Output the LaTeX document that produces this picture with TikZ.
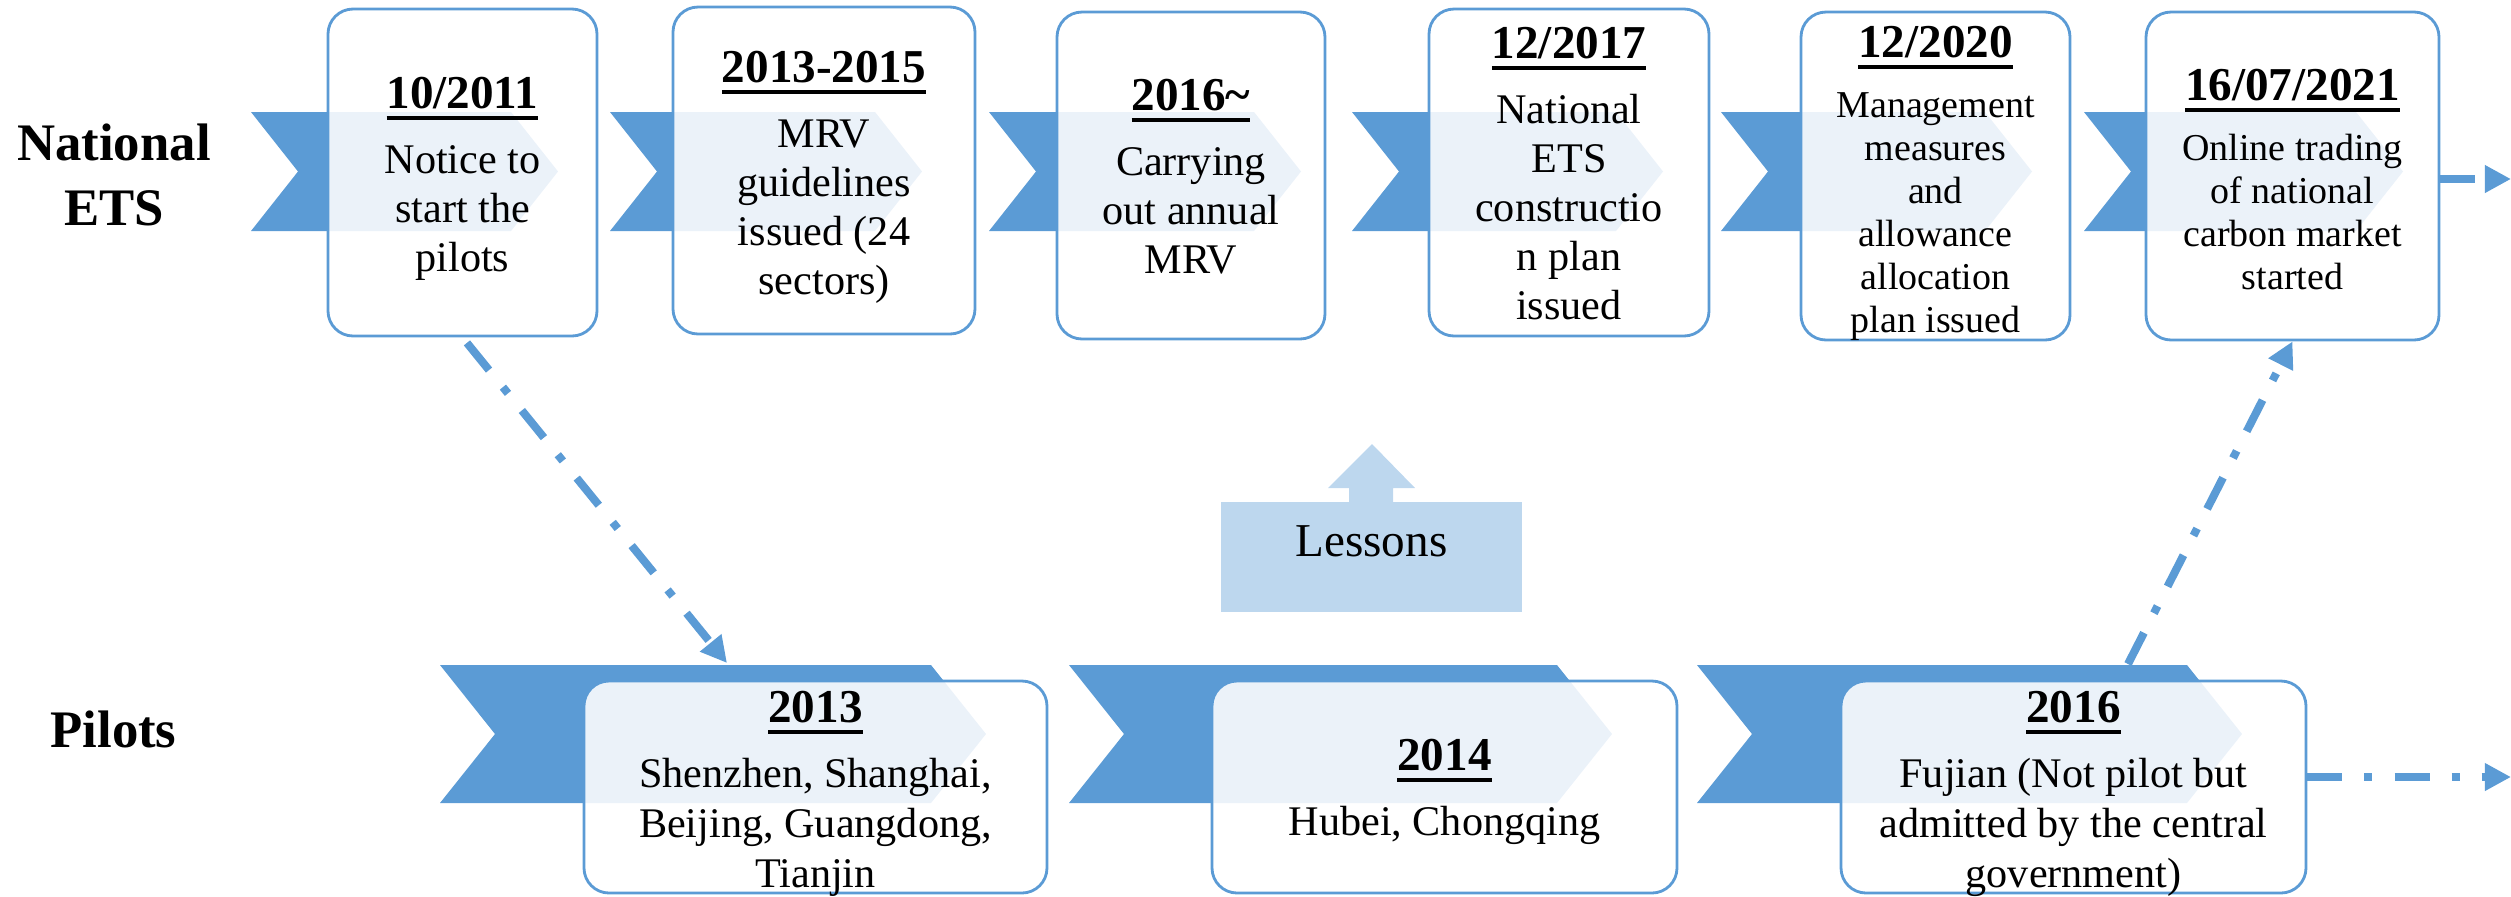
\documentclass[tikz,border=0pt]{standalone}
\usepackage{fontspec}
\setmainfont{Liberation Serif}
\newfontfamily\tnr{Liberation Serif}
\usetikzlibrary{arrows.meta,fit}
\definecolor{acc}{HTML}{5B9BD5}
\definecolor{lessonc}{HTML}{BDD7EE}
\newcommand\bodyA{\tnr\fontsize{12}{13.9}\selectfont}
\newcommand\bodyB{\tnr\fontsize{10.8}{12.2}\selectfont}
\newcommand\bodyC{\tnr\fontsize{12}{14.2}\selectfont}
\newcommand\datehead[1]{{\tnr\fontsize{13.4}{14}\selectfont\bfseries\setbox0=\hbox{#1}\rlap{\rule[-3.1pt]{\wd0}{1.1pt}}\box0}\rule{0pt}{10pt}}
\newcommand\mychev[5]{\fill[acc] (#1,{#3-#4}) -- ({#2-#5},{#3-#4}) -- (#2,#3) -- ({#2-#5},{#3+#4}) -- (#1,{#3+#4}) -- ({#1+#5},#3) -- cycle;}
\begin{document}
\begin{tikzpicture}[x=0.01cm, y=-0.01cm,
  tbox/.style={draw=acc, line width=0.8pt, fill=white, fill opacity=0.88,
    rounded corners=2.5mm, inner sep=0pt},
  btext/.style={inner sep=0pt, align=center, anchor=north, text=black},
  lessbox/.style={fill=lessonc, inner sep=0pt, font=\tnr\fontsize{13.4}{16}\selectfont},
  rowtitle/.style={inner sep=0pt, align=center, font=\tnr\fontsize{15}{18.5}\selectfont\bfseries},
  conn/.style={draw=acc, line width=2.28pt, dash pattern=on 9.96pt off 6.26pt on 2.28pt off 6.26pt,
    -{Triangle[length=7.4pt,width=7.4pt]}}]
\useasboundingbox (0,0) rectangle (2511,896);

% row titles
\node[rowtitle] (nat) at (114,175) {National\\ETS};
\node[rowtitle] (pil) at (113.5,729) {Pilots};

% chevrons, national row
\mychev{251}{558}{171.5}{59.5}{47}
\mychev{610}{922}{171.5}{59.5}{47}
\mychev{989}{1301}{171.5}{59.5}{47}
\mychev{1352}{1663}{171.5}{59.5}{47}
\mychev{1721}{2032}{171.5}{59.5}{47}
\mychev{2084}{2403}{171.5}{59.5}{47}

% chevrons, pilots row
\mychev{440}{986}{734}{69}{55}
\mychev{1069}{1612}{734}{69}{55}
\mychev{1697}{2242}{734}{69}{55}

% national boxes
\node[tbox, fit={(328,9) (597,336)}] (B1) {};
\node[tbox, fit={(673,7) (975,334)}] (B2) {};
\node[tbox, fit={(1057,12) (1325,339)}] (B3) {};
\node[tbox, fit={(1429,9) (1709,336)}] (B4) {};
\node[tbox, fit={(1801,12) (2070,340)}] (B5) {};
\node[tbox, fit={(2146,12) (2439,340)}] (B6) {};
% pilot boxes
\node[tbox, fit={(584,681) (1047,893)}] (P1) {};
\node[tbox, fit={(1212,681) (1677,893)}] (P2) {};
\node[tbox, fit={(1841,681) (2306,893)}] (P3) {};

% box texts
\node[btext, font=\bodyA] (T1) at (462.5,73)
  {\datehead{10/2011}\\[4.6pt]Notice to\\start the\\pilots};
\node[btext, font=\bodyA] (T2) at (824,47)
  {\datehead{2013-2015}\\[4.6pt]MRV\\guidelines\\issued (24\\sectors)};
\node[btext, font=\bodyA] (T3) at (1191,75)
  {\datehead{2016\textasciitilde}\\[4.6pt]Carrying\\out annual\\MRV};
\node[btext, font=\bodyA] (T4) at (1569,23)
  {\datehead{12/2017}\\[4.6pt]National\\ETS\\constructio\\n plan\\issued};
\node[btext, font=\bodyB] (T5) at (1935.5,22)
  {\datehead{12/2020}\\[4.8pt]Management\\measures\\and\\allowance\\allocation\\plan issued};
\node[btext, font=\bodyB] (T6) at (2292.5,65)
  {\datehead{16/07/2021}\\[4.8pt]Online trading\\of national\\carbon market\\started};
\node[btext, font=\bodyC] (Q1) at (815.5,687)
  {\datehead{2013}\\[4.3pt]Shenzhen, Shanghai,\\Beijing, Guangdong,\\Tianjin};
\node[btext, font=\bodyC] (Q2) at (1444.5,735)
  {\datehead{2014}\\[4.3pt]Hubei, Chongqing};
\node[btext, font=\bodyC] (Q3) at (2073.5,687)
  {\datehead{2016}\\[4.3pt]Fujian (Not pilot but\\admitted by the central\\government)};

% lessons
\node[lessbox, fit={(1221,502) (1522,612)}] (L) {Lessons};
\fill[lessonc] (1349,503) -- (1349,488) -- (1328,488) -- (1372,444) -- (1415,488) -- (1393,488) -- (1393,503) -- cycle;

% connectors
\coordinate (a1) at (727,663);
\coordinate (s2) at (2128,664);
\coordinate (r1) at (2511,179);
\coordinate (r2) at (2511,777);
\draw[conn, shorten <=2pt] (B1.south) -- (a1);
\draw[conn] (s2) -- (B6.south);
\draw[conn] (B6.east |- r1) -- (r1);
\draw[conn] (P3.east |- r2) -- (r2);
\end{tikzpicture}
\end{document}
